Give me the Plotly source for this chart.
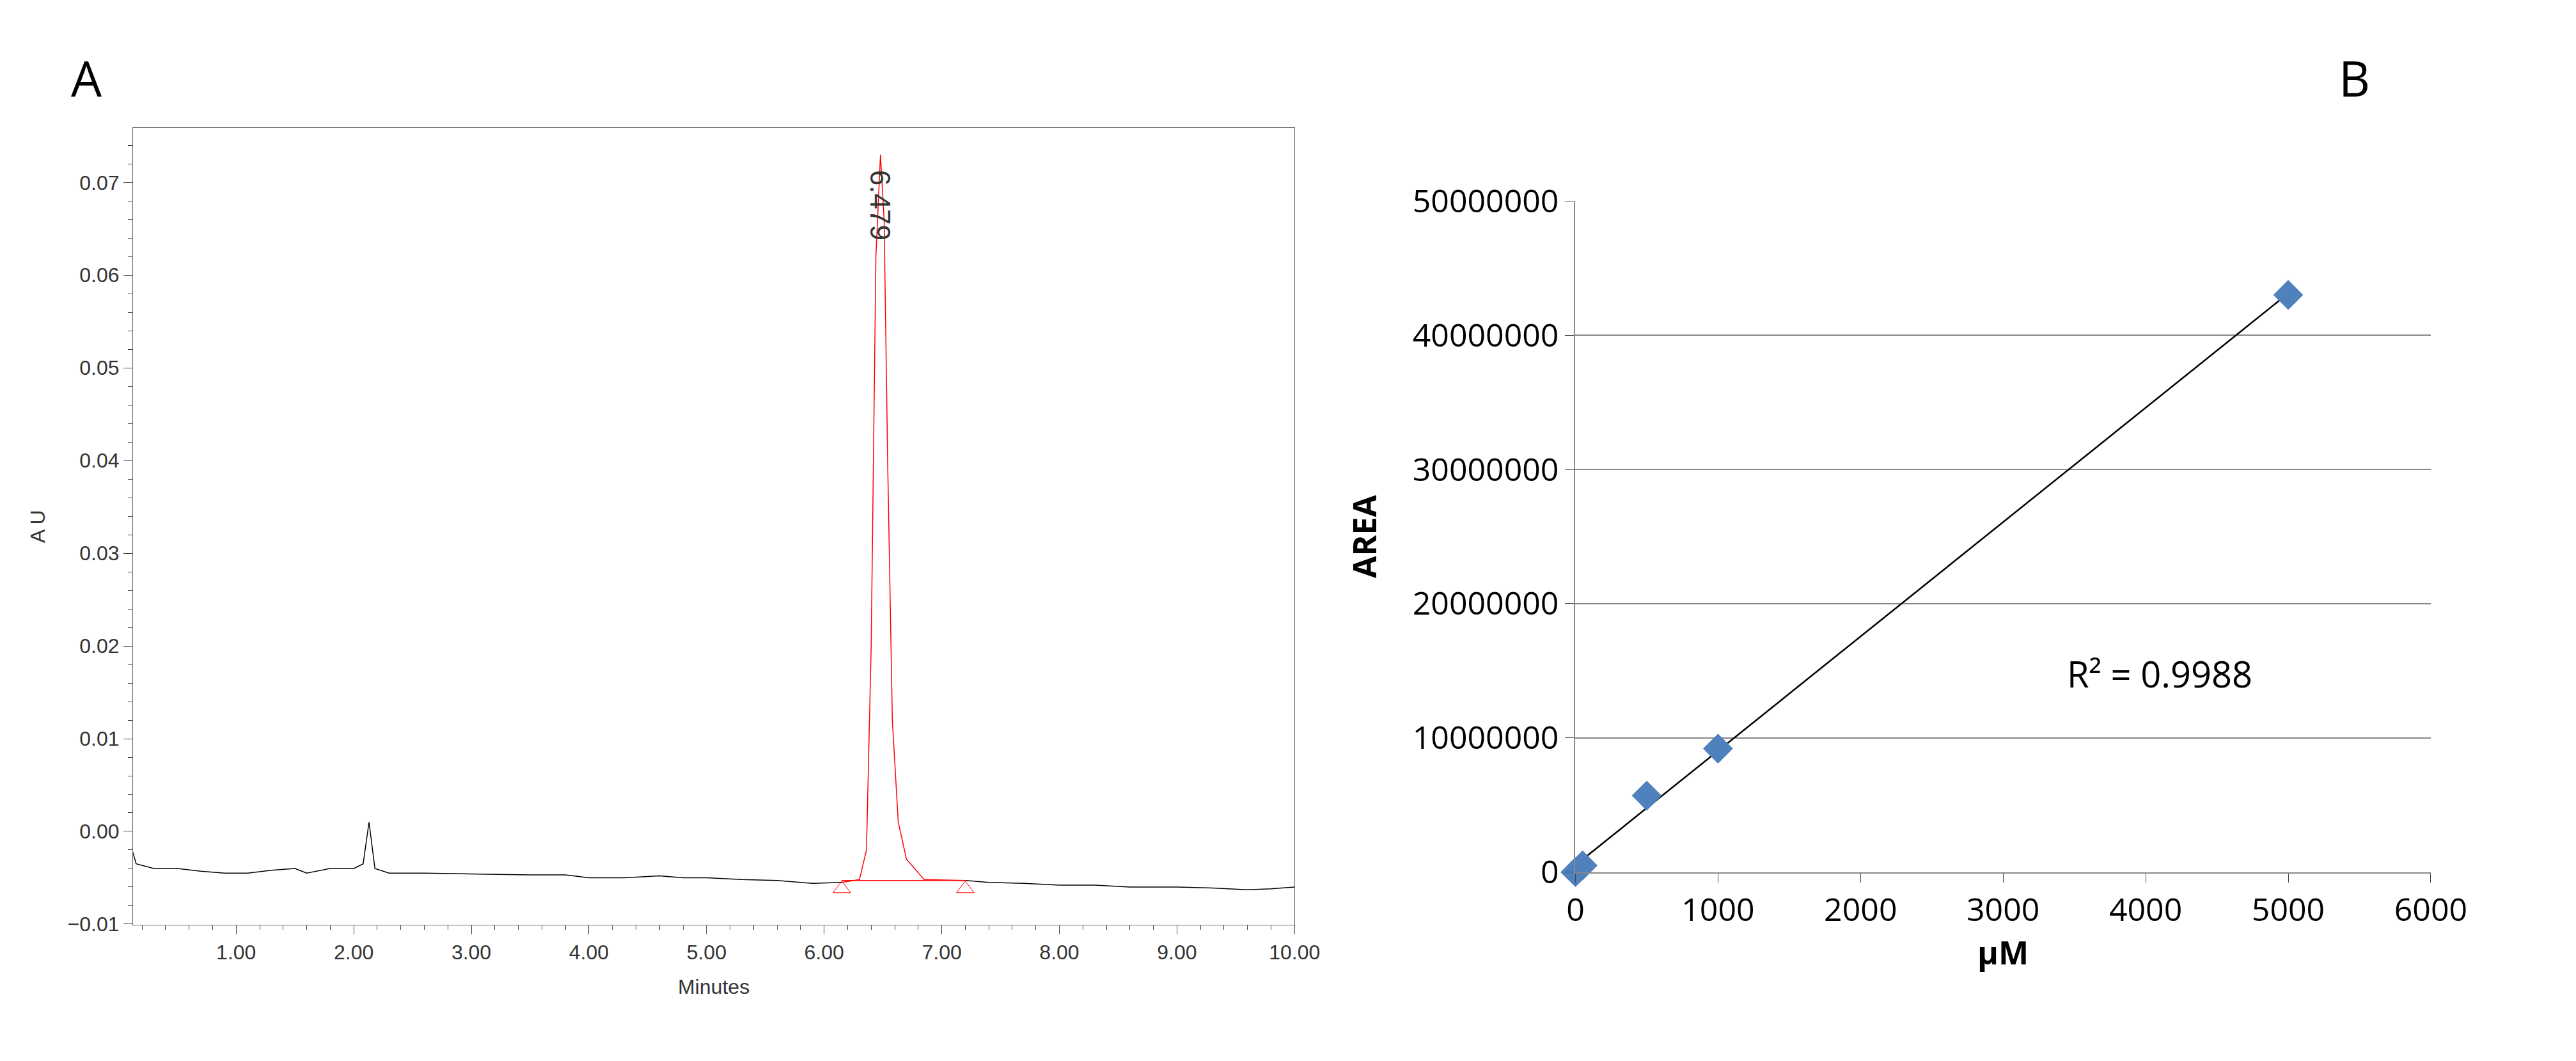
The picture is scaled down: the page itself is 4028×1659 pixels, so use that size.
import numpy as np
import plotly.graph_objects as go

# Panel A: chromatogram (minutes, AU)
base1_t = [0.12, 0.15, 0.3, 0.5, 0.7, 0.9, 1.1, 1.3, 1.5, 1.6, 1.8, 2.0, 2.08, 2.13, 2.18, 2.3,
           2.6, 3.0, 3.5, 3.8, 4.0, 4.3, 4.6, 4.8, 5.0, 5.3, 5.6, 5.9, 6.15]
base1_au = [-0.0022, -0.0035, -0.004, -0.004, -0.0043, -0.0045, -0.0045, -0.0042, -0.004, -0.0045,
            -0.004, -0.004, -0.0035, 0.001, -0.004, -0.0045, -0.0045, -0.0046, -0.0047, -0.0047,
            -0.005, -0.005, -0.0048, -0.005, -0.005, -0.0052, -0.0053, -0.0056, -0.0055]
peak_t = [6.15, 6.3, 6.36, 6.4, 6.44, 6.479, 6.51, 6.54, 6.58, 6.63, 6.7, 6.85, 7.2]
peak_au = [-0.0055, -0.0052, -0.002, 0.02, 0.062, 0.073, 0.066, 0.04, 0.012, 0.001, -0.003, -0.0052, -0.0053]
base2_t = [7.2, 7.4, 7.7, 8.0, 8.3, 8.6, 9.0, 9.3, 9.6, 9.8, 10.0]
base2_au = [-0.0053, -0.0055, -0.0056, -0.0058, -0.0058, -0.006, -0.006, -0.0061, -0.0063, -0.0062, -0.006]
peak_bounds = [6.15, 7.2]
peak_base = [-0.0053, -0.0053]
peak_rt = 6.479

# Panel B: calibration (uM, area)
conc = [0, 50, 500, 1000, 5000]
area = [0, 500000, 5700000, 9200000, 43000000]
r2_text = "R² = 0.9988"

fig = go.Figure()
afont = dict(family="Liberation Sans Narrow, Liberation Sans", size=32, color="#333")
fig.add_trace(go.Scatter(x=base1_t, y=base1_au, mode="lines", line=dict(color="black", width=1.5),
                         xaxis="x", yaxis="y", showlegend=False))
fig.add_trace(go.Scatter(x=base2_t, y=base2_au, mode="lines", line=dict(color="black", width=1.5),
                         xaxis="x", yaxis="y", showlegend=False))
fig.add_trace(go.Scatter(x=peak_t, y=peak_au, mode="lines", line=dict(color="red", width=1.5),
                         xaxis="x", yaxis="y", showlegend=False))
fig.add_trace(go.Scatter(x=peak_bounds, y=peak_base, mode="lines", line=dict(color="red", width=1.5),
                         xaxis="x", yaxis="y", showlegend=False))
fig.add_trace(go.Scatter(x=peak_bounds, y=[v - 0.0009 for v in peak_base], mode="markers",
                         marker=dict(symbol="triangle-up-open", size=24, color="red"),
                         xaxis="x", yaxis="y", showlegend=False))
fig.add_annotation(x=peak_rt, y=0.0715, xref="x", yref="y", text="6.479", textangle=90,
                   showarrow=False, xanchor="center", yanchor="top",
                   font=dict(family="Liberation Sans, Arial", size=44, color="#333"))

# fit line
slope, icpt = np.polyfit(conc, area, 1)
fit_x = [min(conc), max(conc)]
fig.add_trace(go.Scatter(x=fit_x, y=[slope * v + icpt for v in fit_x], mode="lines",
                         line=dict(color="black", width=2.5), xaxis="x2", yaxis="y2", showlegend=False))
fig.add_trace(go.Scatter(x=conc, y=area, mode="markers",
                         marker=dict(symbol="diamond", size=36, color="#4F81BD"),
                         xaxis="x2", yaxis="y2", showlegend=False, cliponaxis=False))
fig.add_annotation(x=4100, y=14800000, xref="x2", yref="y2", text=r2_text, showarrow=False,
                   font=dict(family="Open Sans, Liberation Sans", size=56, color="black"))

bfont = dict(family="Open Sans, Liberation Sans", size=50, color="black")
fig.update_layout(
    width=4028, height=1659, plot_bgcolor="white", paper_bgcolor="white",
    margin=dict(l=0, r=0, t=0, b=0),
    xaxis=dict(domain=[0.047, 0.506], range=[0.123, 10.0], tickvals=list(range(1, 11)),
               ticktext=["%.2f" % v for v in range(1, 11)], ticks="outside", ticklen=14,
               minor=dict(dtick=0.2, ticks="outside", ticklen=7), showgrid=False,
               showline=True, mirror=True, linecolor="#666", tickfont=afont,
               title=dict(text="Minutes", font=afont, standoff=25), anchor="y", zeroline=False),
    yaxis=dict(domain=[0.118, 0.902], range=[-0.0101, 0.0759], dtick=0.01, tickformat=".2f",
               ticks="outside", ticklen=14, minor=dict(dtick=0.002, ticks="outside", ticklen=7),
               showgrid=False, showline=True, mirror=True, linecolor="#666", tickfont=afont,
               title=dict(text="A U", font=afont, standoff=25), anchor="x", zeroline=False),
    xaxis2=dict(domain=[0.617, 0.955], range=[0, 6000], dtick=1000, ticks="outside", ticklen=14,
                showgrid=False, showline=True, linecolor="#888", linewidth=2, tickfont=bfont,
                title=dict(text="<b>µM</b>", font=bfont, standoff=15), anchor="y2", zeroline=False),
    yaxis2=dict(domain=[0.17, 0.83], range=[0, 50000000], dtick=10000000, tickformat="d",
                ticks="outside", ticklen=14, showgrid=True, gridcolor="#888", gridwidth=2,
                showline=True, linecolor="#888", linewidth=2, tickfont=bfont,
                title=dict(text="<b>AREA</b>", font=bfont, standoff=40), anchor="x2", zeroline=False),
)
fig.add_annotation(x=0.022, y=0.985, xref="paper", yref="paper", text="A", showarrow=False,
                   xanchor="left", yanchor="top", font=dict(family="Open Sans", size=76, color="black"))
fig.add_annotation(x=0.918, y=0.985, xref="paper", yref="paper", text="B", showarrow=False,
                   xanchor="left", yanchor="top", font=dict(family="Open Sans", size=76, color="black"))

fig.write_html("out.html")
